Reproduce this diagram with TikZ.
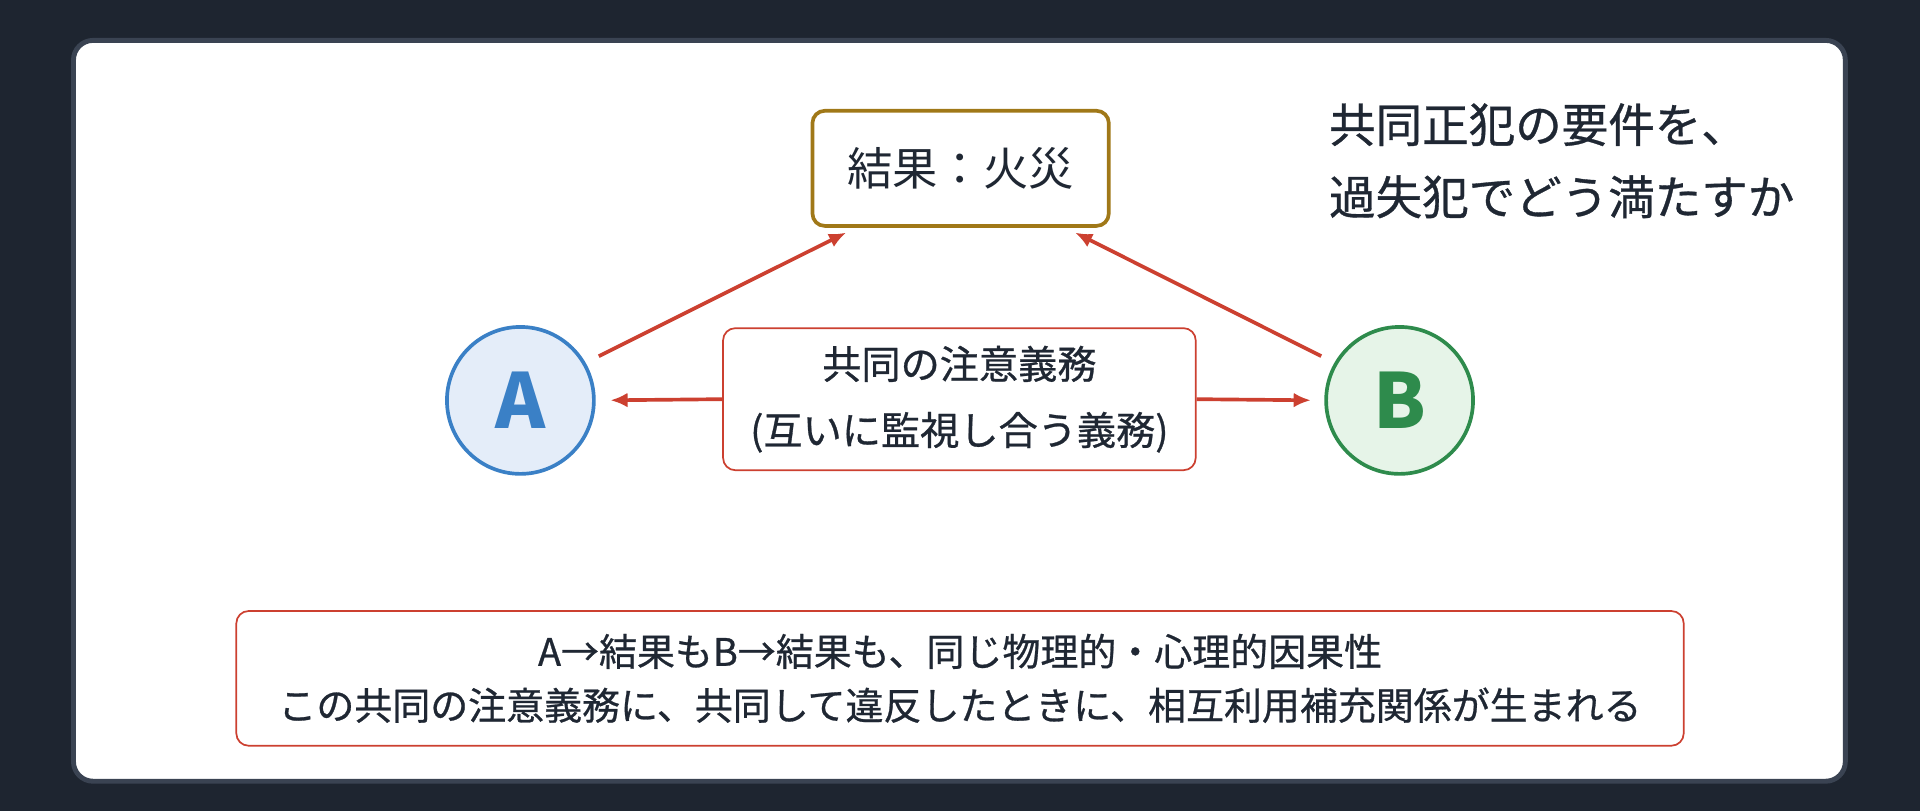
\documentclass[tikz,border=0pt]{standalone}
\usepackage{fontspec}
\setmainfont{Noto Sans CJK JP}
\newfontfamily\medfont{Noto Sans CJK JP}[FakeBold=0.7]
\usetikzlibrary{arrows.meta}
\definecolor{bgdark}{HTML}{1E2530}
\definecolor{cardline}{HTML}{3A4352}
\definecolor{inkdark}{HTML}{1F2733}
\definecolor{resline}{HTML}{A07818}
\definecolor{redline}{HTML}{CC4030}
\definecolor{aline}{HTML}{3A80C6}
\definecolor{afill}{HTML}{E4EDF9}
\definecolor{bline}{HTML}{2E8B4C}
\definecolor{bfill}{HTML}{E6F4E8}
\tikzset{
  box/.style={draw, rounded corners=5pt, text=inkdark, align=center, inner sep=0pt},
  person/.style={circle, draw, line width=1.5pt, minimum size=60pt, inner sep=0pt, font=\fontsize{31}{31}\bfseries\selectfont},
  link/.style={redline, line width=1.5pt, -{Latex[length=7pt,width=6pt]}}
}
\begin{document}
\begin{tikzpicture}[x=0.5pt,y=-0.5pt]
  \useasboundingbox (0,0) rectangle (1568,662);
  \fill[bgdark] (0,0) rectangle (1568,662);
  \draw[cardline, line width=2pt, fill=white, rounded corners=8pt] (60,33) rectangle (1507,638);
  % nodes
  \node[box, draw=resline, line width=1.5pt, minimum width=121pt, minimum height=47pt,
        font=\fontsize{18.5}{18.5}\selectfont] (result) at (784.5,137.5) {結果：火災};
  \node[person, draw=aline, fill=afill, text=aline] (A) at (425,327) {A};
  \node[person, draw=bline, fill=bfill, text=bline] (B) at (1143,327) {B};
  \node[box, draw=redline, line width=0.7pt, minimum width=193pt, minimum height=58pt,
        font=\medfont\fontsize{16}{27}\selectfont] (duty) at (783.5,326) {共同の注意義務\\(互いに監視し合う義務)};
  \node[box, draw=redline, line width=0.7pt, minimum width=591pt, minimum height=55pt,
        font=\medfont\fontsize{15.5}{22}\selectfont] (note) at (784,554) {A→結果もB→結果も、同じ物理的・心理的因果性\\この共同の注意義務に、共同して違反したときに、相互利用補充関係が生まれる};
  \node[anchor=north west, text=inkdark, align=left, inner sep=0pt,
        font=\medfont\fontsize{19}{29.5}\selectfont] (title) at (1085,84) {共同正犯の要件を、\\過失犯でどう満たすか};
  % connectors
  \draw[link, shorten <=6pt] (A.30) -- ([xshift=14.5pt,yshift=-2pt]result.south west);
  \draw[link, shorten <=6pt] (B.150) -- ([xshift=-14.5pt,yshift=-2pt]result.south east);
  \draw[link, shorten >=6pt] (duty.west) -- (A.east);
  \draw[link, shorten >=5.5pt] (duty.east) -- (B.west);
\end{tikzpicture}
\end{document}
